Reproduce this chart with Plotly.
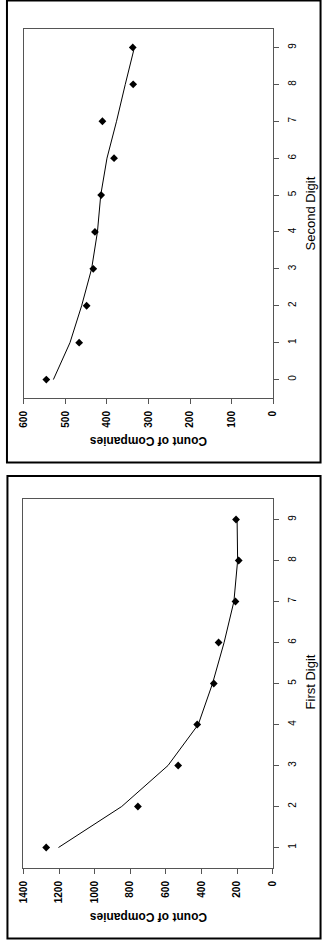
import plotly.graph_objects as go

# ---- data ----
second_digits = [0, 1, 2, 3, 4, 5, 6, 7, 8, 9]
second_observed = [546, 467, 449, 433, 429, 414, 383, 411, 337, 338]
second_expected = [529, 489, 461, 437, 423, 415, 400, 377, 356, 334]

first_digits = [1, 2, 3, 4, 5, 6, 7, 8, 9]
first_observed = [1272, 757, 531, 424, 331, 304, 209, 191, 206]
first_expected = [1203, 848, 588, 418, 338, 273, 218, 197, 200]

count_ticks_top = [0, 100, 200, 300, 400, 500, 600]
count_ticks_bottom = [0, 200, 400, 600, 800, 1000, 1200, 1400]

W, H = 327, 940
FONT = "Liberation Sans, Arial, sans-serif"


def px(x):
    return x / W


def py(y):
    return 1 - y / H


fig = go.Figure()

# top panel (second digit) - chart rotated: counts on x (reversed), digits on y
fig.add_trace(go.Scatter(x=second_expected, y=second_digits, mode="lines",
                         line=dict(color="black", width=1), xaxis="x", yaxis="y",
                         showlegend=False, hoverinfo="skip"))
fig.add_trace(go.Scatter(x=second_observed, y=second_digits, mode="markers",
                         marker=dict(symbol="diamond", size=6, color="black"),
                         xaxis="x", yaxis="y", showlegend=False))

# bottom panel (first digit)
fig.add_trace(go.Scatter(x=first_expected, y=first_digits, mode="lines",
                         line=dict(color="black", width=1), xaxis="x2", yaxis="y2",
                         showlegend=False, hoverinfo="skip"))
fig.add_trace(go.Scatter(x=first_observed, y=first_digits, mode="markers",
                         marker=dict(symbol="diamond", size=6, color="black"),
                         xaxis="x2", yaxis="y2", showlegend=False))

common_x = dict(showgrid=False, zeroline=False, showline=True, mirror=True,
                linecolor="#555", linewidth=1, ticks="outside", ticklen=5,
                tickcolor="#555", tickangle=-90, ticklabelstandoff=3,
                tickfont=dict(family=FONT, size=10, color="black", weight="bold"))
common_y = dict(showgrid=False, zeroline=False, showline=True, mirror=True,
                linecolor="#555", linewidth=1, ticks="outside", ticklen=5,
                tickcolor="#555", tickangle=-90, side="right", ticklabelstandoff=5,
                tickfont=dict(family=FONT, size=10, color="black"))

fig.update_layout(
    width=W, height=H,
    margin=dict(l=0, r=0, t=0, b=0),
    paper_bgcolor="white", plot_bgcolor="white",
    xaxis=dict(common_x, domain=[px(18.5), px(276.5)], anchor="y",
               range=[600, 0], tickvals=count_ticks_top),
    yaxis=dict(common_y, domain=[py(398), py(29)], anchor="x",
               range=[-0.5, 9.5], tickvals=second_digits),
    xaxis2=dict(common_x, domain=[px(18), px(276)], anchor="y2",
                range=[1400, 0], tickvals=count_ticks_bottom),
    yaxis2=dict(common_y, domain=[py(868), py(499)], anchor="x2",
                range=[0.5, 9.5], tickvals=first_digits),
)

annotations = [
    dict(text="Count of Companies", x=px(147), y=py(441), textangle=180,
         font=dict(family=FONT, size=12, color="black", weight="bold")),
    dict(text="Second Digit", x=px(315), y=py(213), textangle=-90,
         font=dict(family=FONT, size=13, color="black")),
    dict(text="Count of Companies", x=px(147), y=py(917), textangle=180,
         font=dict(family=FONT, size=12, color="black", weight="bold")),
    dict(text="First Digit", x=px(315), y=py(682), textangle=-90,
         font=dict(family=FONT, size=13, color="black")),
]
for a in annotations:
    a.update(xref="paper", yref="paper", showarrow=False,
             xanchor="center", yanchor="middle")
fig.update_layout(annotations=annotations)

# outer frames
fig.add_shape(type="rect", xref="paper", yref="paper",
              x0=px(1), x1=px(325.5), y0=py(462.5), y1=py(0.5),
              line=dict(color="black", width=2))
fig.add_shape(type="rect", xref="paper", yref="paper",
              x0=px(1.5), x1=px(325.5), y0=py(938.5), y1=py(476),
              line=dict(color="black", width=2))

fig.write_html("out.html")
